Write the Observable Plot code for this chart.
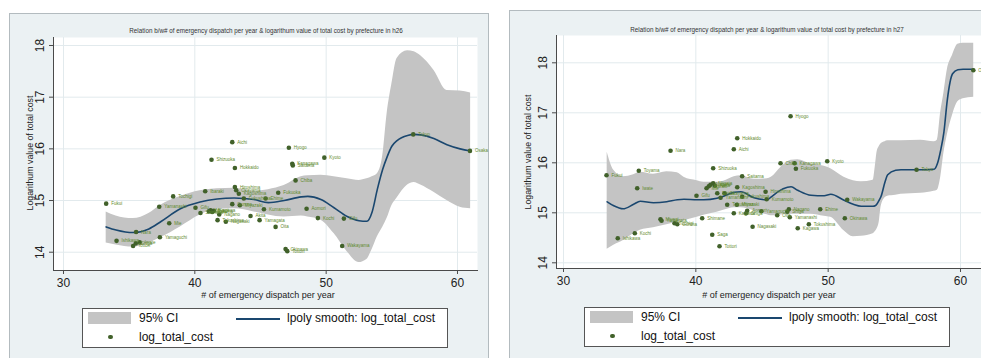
<!DOCTYPE html>
<html><head><meta charset="utf-8">
<script src="https://cdn.jsdelivr.net/npm/d3@7"></script>
<script src="https://cdn.jsdelivr.net/npm/@observablehq/plot@0.6"></script>
<style>
html,body{margin:0;padding:0;width:981px;height:358px;overflow:hidden;background:#fff;}
body{position:relative;font-family:"Liberation Sans",Arial,sans-serif;color:#222;}
.panel{position:absolute;background:#EBF1F3;border:1px solid #B3BBBF;box-sizing:border-box;}
.plot{position:absolute;top:0;}
.t{position:absolute;white-space:nowrap;transform:translate(-50%,-50%);}
.yt{position:absolute;white-space:nowrap;transform:translate(-50%,-50%) rotate(-90deg);}
.legend{position:absolute;background:#fff;border:1px solid #555;box-sizing:border-box;width:366px;height:40px;}
.legend div{position:absolute;}
.lt{font-size:12px;line-height:14px;white-space:nowrap;color:#111;}
</style>
</head><body>
<script>
// ---------- shared ----------
const xTicks = [30, 40, 50, 60];
const yTicks = [14, 15, 16, 17, 18];
const xTitle = "# of emergency dispatch per year";
const yTitle = "Logarithum value of total cost";
const legendLabels = ["95% CI", "lpoly smooth: log_total_cost", "log_total_cost"];
const titleH26 = "Relation b/w# of emergency dispatch per year & logarithum value of total cost by prefecture in h26";
const titleH27 = "Relation b/w# of emergency dispatch per year & logarithum value of total cost by prefecture in h27";

// ---------- h26 (left) ----------
const h26GridX = [33.25,34.0,35.3,36.5,37.4,38.9,40.4,41.7,43.0,44.5,45.6,46.8,48.1,48.6,49.6,50.6,51.6,52.5,53.1,53.5,53.9,54.3,54.65,55.0,55.4,56.2,56.7,57.2,58.2,59.2,60.2,61.0];
const h26Fit = [14.49,14.43,14.38,14.45,14.59,14.84,14.97,15.03,15.05,15.02,14.96,15.0,15.07,15.08,15.02,14.86,14.69,14.61,14.60,14.78,15.22,15.6,15.85,16.05,16.16,16.26,16.28,16.27,16.2,16.08,16.0,15.96];
const h26Lo = [14.18,14.14,14.1,14.18,14.28,14.49,14.72,14.83,14.84,14.78,14.72,14.68,14.7,14.68,14.62,14.36,14.01,13.8,13.86,14.05,14.3,14.48,14.66,14.9,15.05,15.3,15.35,15.3,15.16,15.0,14.87,14.84];
const h26Hi = [14.78,14.7,14.65,14.75,14.91,15.08,15.19,15.23,15.24,15.18,15.21,15.29,15.46,15.48,15.49,15.46,15.42,15.39,15.42,15.46,15.52,15.85,16.7,17.25,17.75,17.9,17.88,17.8,17.52,17.13,17.12,17.08];
const h26Names = ["Fukui","Ishikawa","Nara","Tottori","Shiga","Iwate","Yamanashi","Yamaguchi","Mie","Tochigi","Gifu","Shimane","Ibaraki","Saga","Miyagi","Toyama","Kagawa","Shizuoka","Tokushima","Nagano","Nagasaki","Aichi","Hokkaido","Hiroshima","Okayama","Kagoshima","Gunma","Miyazaki","Fukushima","Akita","Yamagata","Kumamoto","Ehime","Oita","Fukuoka","Hyogo","Kanagawa","Saitama","Kyoto","Chiba","Aomori","Kochi","Gifu","Wakayama","Okinawa","Tottori","Tokyo","Osaka"];
const h26PtX = [33.25,34.04,35.53,35.3,35.5,35.8,37.29,37.34,38.05,38.35,40.05,40.43,40.79,41.07,41.2,41.32,41.45,41.27,41.73,41.86,42.36,42.85,43.05,43.05,43.15,43.35,42.85,43.43,43.73,44.24,44.93,45.26,45.39,46.15,46.35,47.16,47.42,47.46,49.86,47.67,48.51,49.37,51.35,51.22,46.91,47.04,56.63,60.95];
const h26PtY = [14.94,14.22,14.39,14.12,14.17,14.19,14.88,14.29,14.56,15.08,14.86,14.76,15.18,14.79,14.81,14.78,14.8,15.79,14.62,14.73,14.59,16.13,15.63,15.26,15.2,15.13,14.93,14.91,15.04,14.7,14.62,14.83,15.04,14.49,15.15,16.02,15.71,15.68,15.83,15.39,14.84,14.66,14.65,14.12,14.06,14.02,16.28,15.96];

// ---------- h27 (right) ----------
const h27GridX = [33.3,33.8,34.5,35.3,35.8,36.8,37.8,38.6,39.1,40.1,40.6,41.6,42.1,42.9,43.4,44.4,45.4,45.7,46.6,47.2,47.7,48.7,49.7,50.2,51.2,51.9,52.5,53.4,53.55,53.7,53.85,54.0,54.3,54.5,55.1,55.5,57.0,58.0,58.25,58.5,58.75,59.0,59.4,59.8,60.2,61.0];
const h27Fit = [15.22,15.14,15.08,15.17,15.23,15.2,15.22,15.26,15.27,15.26,15.26,15.29,15.33,15.41,15.42,15.3,15.26,15.32,15.48,15.52,15.45,15.35,15.34,15.37,15.25,15.17,15.13,15.13,15.14,15.18,15.25,15.33,15.62,15.76,15.85,15.86,15.86,15.87,15.98,16.25,16.62,17.25,17.78,17.86,17.87,17.87];
const h27Lo = [14.27,14.35,14.44,14.58,14.65,14.7,14.76,14.81,14.84,14.91,14.95,15.01,15.05,15.1,15.1,15.04,14.96,14.94,14.96,14.97,14.97,14.97,14.93,14.91,14.64,14.52,14.53,14.58,14.62,14.68,14.8,15.12,15.3,15.33,15.35,15.37,15.39,15.43,15.45,15.7,16.2,16.55,16.95,17.22,17.28,17.31];
const h27Hi = [16.21,15.85,15.72,15.76,15.81,15.77,15.82,15.8,15.71,15.64,15.61,15.61,15.63,15.72,15.74,15.67,15.68,15.71,15.95,16.05,16.06,15.97,15.93,15.88,15.71,15.64,15.62,15.65,15.9,16.22,16.32,16.38,16.42,16.44,16.44,16.44,16.45,16.42,16.45,17.0,17.4,17.85,18.15,18.37,18.39,18.39];
const h27Names = ["Fukui","Ishikawa","Kochi","Toyama","Iwate","Nara","Miyagi","Yamagata","Tochigi","Gunma","Gifu","Shimane","Saga","Tottori","Shizuoka","Mie","Ibaraki","Nagano","Niigata","Akita","Ehime","Yamanashi","Okayama","Tokushima","Kagawa","Hokkaido","Aichi","Saitama","Kagoshima","Miyazaki","Fukushima","Shiga","Aomori","Nagasaki","Yamaguchi","Hiroshima","Kumamoto","Chiba","Oita","Hyogo","Kanagawa","Fukuoka","Kyoto","Okinawa","Wakayama","Tokyo","Osaka","Nagano","Shiga","Yamanashi","Kagawa","Tokushima","Ehime"];
const h27PtX = [33.25,34.1,35.39,35.69,35.57,38.09,37.33,37.41,38.39,38.6,40.05,40.48,41.24,41.79,41.31,40.81,40.98,41.11,41.31,41.44,41.62,41.87,42.17,42.37,42.87,43.13,42.87,43.5,43.13,43.1,43.5,43.8,43.88,44.29,44.95,45.27,45.35,46.4,46.15,47.16,47.46,47.56,49.93,51.26,51.44,56.68,60.97,47.03,46.91,47.1,47.7,48.54,49.4];
const h27PtY = [15.75,14.49,14.59,15.84,15.49,16.24,14.87,14.84,14.79,14.77,15.34,14.89,14.56,14.33,15.89,15.49,15.53,15.56,15.59,15.54,15.39,15.3,15.39,15.16,14.99,16.49,16.27,15.73,15.51,15.16,15.32,14.99,15.04,14.72,15.03,15.42,15.27,15.99,14.95,16.93,15.99,15.88,16.03,14.89,15.26,15.86,17.85,15.07,15.02,14.91,14.69,14.77,15.07];

// ---------- styles ----------
const C = {ci: "#C4C4C4", line: "#1A476F", dot: "#41612A", label: "#5F8A2E", grid: "#E2EAED", axis: "#4A4A4A"};
const fmt = d => String(d);

function makePlot(cfg) {
  const band = cfg.gx.map((x, i) => ({x, fit: cfg.fit[i], lo: cfg.lo[i], hi: cfg.hi[i]}));
  const pts = cfg.names.map((n, i) => ({name: n, x: cfg.px[i], y: cfg.py[i]}));
  return Plot.plot({
    width: cfg.width, height: 300,
    marginLeft: cfg.ml, marginRight: cfg.mr, marginTop: cfg.mt, marginBottom: 300 - cfg.bottom,
    x: {domain: cfg.xd, label: null}, y: {domain: cfg.yd, label: null},
    style: {background: "transparent", fontFamily: "'Liberation Sans', Arial, sans-serif", color: "#222", overflow: "visible"},
    marks: [
      Plot.frame({fill: "white", stroke: null}),
      Plot.gridX(xTicks, {stroke: C.grid, strokeOpacity: 1}),
      Plot.gridY(yTicks, {stroke: C.grid, strokeOpacity: 1}),
      Plot.areaY(band, {x: "x", y1: "lo", y2: "hi", fill: C.ci, curve: "monotone-x"}),
      Plot.line(band, {x: "x", y: "fit", stroke: C.line, strokeWidth: 1.6, curve: "monotone-x"}),
      Plot.dot(pts, {x: "x", y: "y", r: 2.3, fill: C.dot, stroke: null}),
      Plot.text(pts, {x: "x", y: "y", text: "name", dx: 5, textAnchor: "start", fontSize: 4.5, fill: C.label}),
      Plot.axisX(xTicks, {tickSize: 4, tickPadding: 4, fontSize: 12, stroke: C.axis, fill: "#222", tickFormat: fmt, label: null}),
      Plot.axisY(yTicks, {tickSize: 4, tickPadding: 6, tickRotate: -90, fontSize: 12, stroke: C.axis, fill: "#222", tickFormat: fmt, label: null}),
      Plot.frame({anchor: "left", stroke: C.axis}),
      Plot.frame({anchor: "bottom", stroke: C.axis})
    ]
  });
}

function addDiv(cls, css, text) {
  const d = document.createElement("div");
  d.className = cls;
  Object.assign(d.style, css);
  if (text != null) d.textContent = text;
  document.body.appendChild(d);
  return d;
}

function legend(L, T) {
  const box = addDiv("legend", {left: L + "px", top: T + "px"});
  const add = (css, text, cls) => { const d = document.createElement("div"); if (cls) d.className = cls; Object.assign(d.style, css); if (text != null) d.textContent = text; box.appendChild(d); };
  add({left: "5px", top: "3px", width: "43px", height: "12px", background: C.ci});
  add({left: "56px", top: "2px"}, legendLabels[0], "lt");
  add({left: "153px", top: "9px", width: "44px", height: "1.7px", background: C.line});
  add({left: "204px", top: "2px"}, legendLabels[1], "lt");
  add({left: "25px", top: "25.5px", width: "4.6px", height: "4.6px", borderRadius: "50%", background: C.dot});
  add({left: "56px", top: "20.5px"}, legendLabels[2], "lt");
}

// panels backgrounds
addDiv("panel", {left: "9px", top: "13px", width: "480px", height: "346px"});
addDiv("panel", {left: "509px", top: "10px", width: "490px", height: "350px"});

// left plot
const p1 = makePlot({width: 490, ml: 53, mr: 13, mt: 37, bottom: 270,
  xd: [29.2386, 61.524], yd: [13.646, 18.1548],
  gx: h26GridX, fit: h26Fit, lo: h26Lo, hi: h26Hi, names: h26Names, px: h26PtX, py: h26PtY});
p1.classList.add("plot"); p1.style.left = "0px"; document.body.appendChild(p1);

// right plot
const p2 = makePlot({width: 500, ml: 66, mr: 5, mt: 35, bottom: 268,
  xd: [29.471, 61.89], yd: [13.886, 18.546],
  gx: h27GridX, fit: h27Fit, lo: h27Lo, hi: h27Hi, names: h27Names, px: h27PtX, py: h27PtY});
p2.classList.add("plot"); p2.style.left = "490px"; document.body.appendChild(p2);

// titles
addDiv("t", {left: "266px", top: "30px", fontSize: "6.3px", color: "#333"}, titleH26);
addDiv("t", {left: "767px", top: "29px", fontSize: "6.3px", color: "#333"}, titleH27);
addDiv("t", {left: "268px", top: "295px", fontSize: "9px"}, xTitle);
addDiv("t", {left: "769px", top: "295px", fontSize: "9px"}, xTitle);
addDiv("yt", {left: "29.5px", top: "152.5px", fontSize: "8.8px"}, yTitle);
addDiv("yt", {left: "528px", top: "152px", fontSize: "8.8px"}, yTitle);

legend(82, 308);
legend(584, 307);
</script>
</body></html>
